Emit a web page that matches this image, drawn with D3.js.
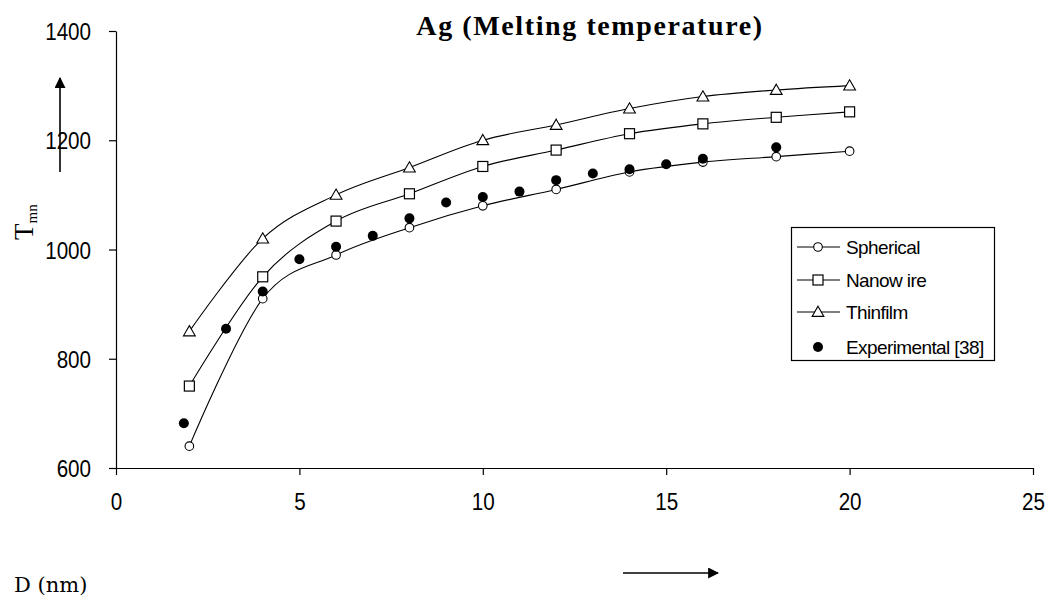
<!DOCTYPE html>
<html><head><meta charset="utf-8">
<script src="https://cdn.jsdelivr.net/npm/d3@7"></script>
<style>body{margin:0;background:#fff}svg{display:block}</style>
</head><body>
<svg id="c" width="1050" height="599"></svg>
<script>
const xModel = [2,4,6,8,10,12,14,16,18,20];
const spherical = [640,910,990,1040,1080,1110,1142,1160,1170,1180];
const nanowire  = [750,950,1052,1102,1152,1182,1212,1230,1242,1252];
const thinfilm  = [850,1020,1100,1150,1200,1228,1258,1280,1292,1300];
const xExp = [1.85,3,4,5,6,7,8,9,10,11,12,13,14,15,16,18];
const experimental = [682,855,923,982,1005,1025,1057,1086,1096,1106,1127,1139,1147,1156,1166,1187];
const xTicks = [0,5,10,15,20,25];
const yTicks = [600,800,1000,1200,1400];
const legendLabels = ["Spherical","Nanow ire","Thinfilm","Experimental [38]"];

const svg = d3.select("#c");
const x = d3.scaleLinear().domain([0,25]).range([116,1033]);
const y = d3.scaleLinear().domain([600,1400]).range([468,31]);
const sans = "'Liberation Sans',Arial,sans-serif";
const serif = "'Liberation Serif','Times New Roman',serif";

// axes
const yAx = svg.append("g").attr("transform",`translate(${x(0)},0)`)
  .call(d3.axisLeft(y).tickValues(yTicks).tickFormat(d3.format("d")).tickSize(7).tickSizeOuter(0).tickPadding(22));
const xAx = svg.append("g").attr("transform",`translate(0,${y(600)})`)
  .call(d3.axisBottom(x).tickValues(xTicks).tickFormat(d3.format("d")).tickSize(7).tickSizeOuter(0).tickPadding(18));
[yAx,xAx].forEach(g=>{
  g.select(".domain").attr("stroke","#000").attr("stroke-width",1.2);
  g.selectAll(".tick line").attr("stroke","#000").attr("stroke-width",1.2);
  g.selectAll(".tick text").attr("font-family",sans).attr("font-size",24).attr("fill","#000")
    .attr("transform","scale(0.86,1)");
});
yAx.selectAll(".tick text").attr("dy","0.36em");

// lines
const line = d3.line().x(d=>x(d[0])).y(d=>y(d[1])).curve(d3.curveCatmullRom.alpha(0));
const series = [spherical,nanowire,thinfilm];
series.forEach(s=>{
  svg.append("path").datum(xModel.map((v,i)=>[v,s[i]]))
    .attr("d",line).attr("fill","none").attr("stroke","#000").attr("stroke-width",1.1);
});

function marker(g,type,cx,cy){
  if(type===0) g.append("circle").attr("cx",cx).attr("cy",cy).attr("r",4.3).attr("fill","#fff").attr("stroke","#000").attr("stroke-width",1.1);
  else if(type===1) g.append("rect").attr("x",cx-5).attr("y",cy-5).attr("width",10).attr("height",10).attr("fill","#fff").attr("stroke","#000").attr("stroke-width",1.2);
  else if(type===2) g.append("path").attr("d",d3.symbol(d3.symbolTriangle,60)()).attr("transform",`translate(${cx},${cy+1})`).attr("fill","#fff").attr("stroke","#000").attr("stroke-width",1.1);
  else g.append("circle").attr("cx",cx).attr("cy",cy).attr("r",5).attr("fill","#000");
}
const mg = svg.append("g");
series.forEach((s,k)=>{
  xModel.forEach((v,i)=>marker(mg,k,x(v),y(s[i])));
});
xExp.forEach((v,i)=>marker(mg,3,x(v),y(experimental[i])));

// legend
const lg = svg.append("g");
lg.append("rect").attr("x",791.5).attr("y",227.5).attr("width",203).attr("height",133)
  .attr("fill","#fff").attr("stroke","#000").attr("stroke-width",1.2);
const rowY = [247,280,312,347];
legendLabels.forEach((t,i)=>{
  if(i<3) lg.append("line").attr("x1",797).attr("x2",840).attr("y1",rowY[i]).attr("y2",rowY[i]).attr("stroke","#000").attr("stroke-width",1.1);
  marker(lg,i,818,rowY[i]);
  lg.append("text").attr("x",846).attr("y",rowY[i]).attr("dy","0.35em")
    .attr("font-family",sans).attr("font-size",19).attr("letter-spacing","-0.6").text(t);
});

// title
svg.append("text").attr("x",590).attr("y",35).attr("text-anchor","middle")
  .attr("font-family",serif).attr("font-weight","bold").attr("font-size",28).attr("letter-spacing","1.6")
  .text("Ag (Melting temperature)");

// y label
const yl = svg.append("text").attr("transform","translate(33,240) rotate(-90)")
  .attr("font-family",serif).attr("font-size",27);
yl.append("tspan").text("T");
yl.append("tspan").attr("font-size",15).attr("dy",4).text("mn");

// x label
svg.append("text").attr("x",14).attr("y",592).attr("font-family","'DejaVu Serif',serif").attr("font-size",21).text("D (nm)");

// arrows
svg.append("defs").append("marker").attr("id","ah").attr("viewBox","0 0 10 10").attr("refX",9).attr("refY",5)
  .attr("markerWidth",11).attr("markerHeight",11).attr("markerUnits","userSpaceOnUse").attr("orient","auto")
  .append("path").attr("d","M0,0L10,5L0,10Z").attr("fill","#000");
svg.append("line").attr("x1",60).attr("y1",172).attr("x2",60).attr("y2",78)
  .attr("stroke","#000").attr("stroke-width",1.6).attr("marker-end","url(#ah)");
svg.append("line").attr("x1",623).attr("y1",573).attr("x2",718).attr("y2",573)
  .attr("stroke","#000").attr("stroke-width",1.6).attr("marker-end","url(#ah)");
</script>
</body></html>
